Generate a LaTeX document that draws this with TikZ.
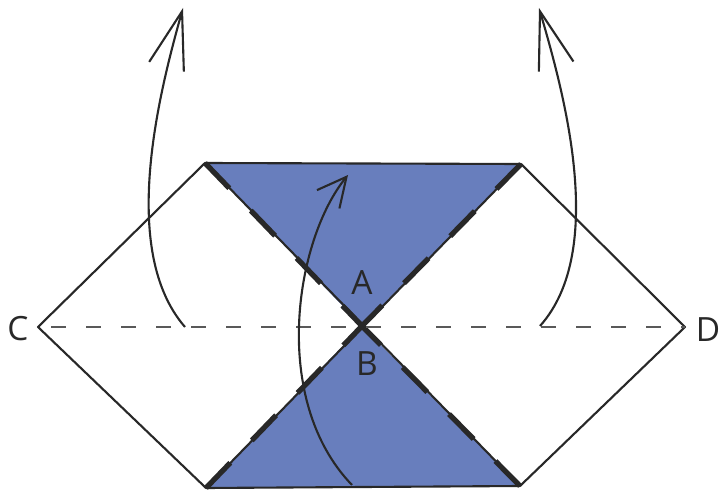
\documentclass[tikz,border=0pt]{standalone}
\usepackage{fontspec}
\newfontfamily\labelfont{Open Sans}
\usetikzlibrary{arrows.meta}
\definecolor{foldblue}{RGB}{104,126,189}
\definecolor{edgegray}{RGB}{40,40,40}

\begin{document}
\begin{tikzpicture}[x=0.2mm, y=-0.2mm,
          edge/.style   = {draw=edgegray, line width=1.2pt, line join=round},
          valley/.style = {edgegray, line width=3pt,
                           dash pattern=on 7mm off 6.2mm},
          crease/.style = {black!65, line width=1.4pt,
                           dash pattern=on 3mm off 4mm, dash phase=-2.6mm},
          flip/.style   = {edgegray, line width=1.2pt},
          lbl/.style    = {font=\labelfont\fontsize{19}{22}\selectfont,
                           text=edgegray, inner sep=0pt}]
        \useasboundingbox (0,0) rectangle (721,493);
        % folding corners
        \coordinate (C)  at (38,327);
        \coordinate (D)  at (685,327);
        \coordinate (TL) at (205,163);
        \coordinate (TR) at (521,164);
        \coordinate (BL) at (206,488);
        \coordinate (BR) at (520,486);
        \coordinate (O)  at (362,326);
        \fill[foldblue] (TL) -- (TR) -- (O) -- cycle;
        \fill[foldblue] (BL) -- (BR) -- (O) -- cycle;
        \draw[edge] (C) -- (TL) -- (TR) -- (D) -- (BR) -- (BL) -- cycle;
        \draw[edge] (TL) -- (BR);
        \draw[edge] (TR) -- (BL);
        \draw[valley] (TL) -- (O);
        \draw[valley] (TR) -- (O);
        \draw[valley] (BL) -- (O);
        \draw[valley] (BR) -- (O);
        \draw[crease] (C) -- (D);
        % labels
        \node[lbl] (lblA) at (362,283) {A};
        \node[lbl] (lblB) at (367,364) {B};
        \node[lbl] (lblC) at (18,329)  {C};
        \node[lbl] (lblD) at (708,330) {D};
        % flip arrows
        \coordinate (lbase) at (185,327);
        \coordinate (ltip)  at (183,8);
        \coordinate (rbase) at (540,326);
        \coordinate (rtip)  at (539,8);
        \coordinate (mbase) at (352,485);
        \coordinate (mtip)  at (348,175);
        \draw[flip, -{Straight Barb[length=11.5mm, width=7.2mm]}]
              (lbase) .. controls (118,250) and (160,90) .. (ltip);
        \draw[flip, -{Straight Barb[length=11.5mm, width=7.2mm]}]
              (rbase) .. controls (608,250) and (563,90) .. (rtip);
        \draw[flip, -{Straight Barb[length=5.8mm, width=5.8mm]}]
              (mbase) .. controls (270,400) and (295,240) .. (mtip);
      \end{tikzpicture}
\end{document}
